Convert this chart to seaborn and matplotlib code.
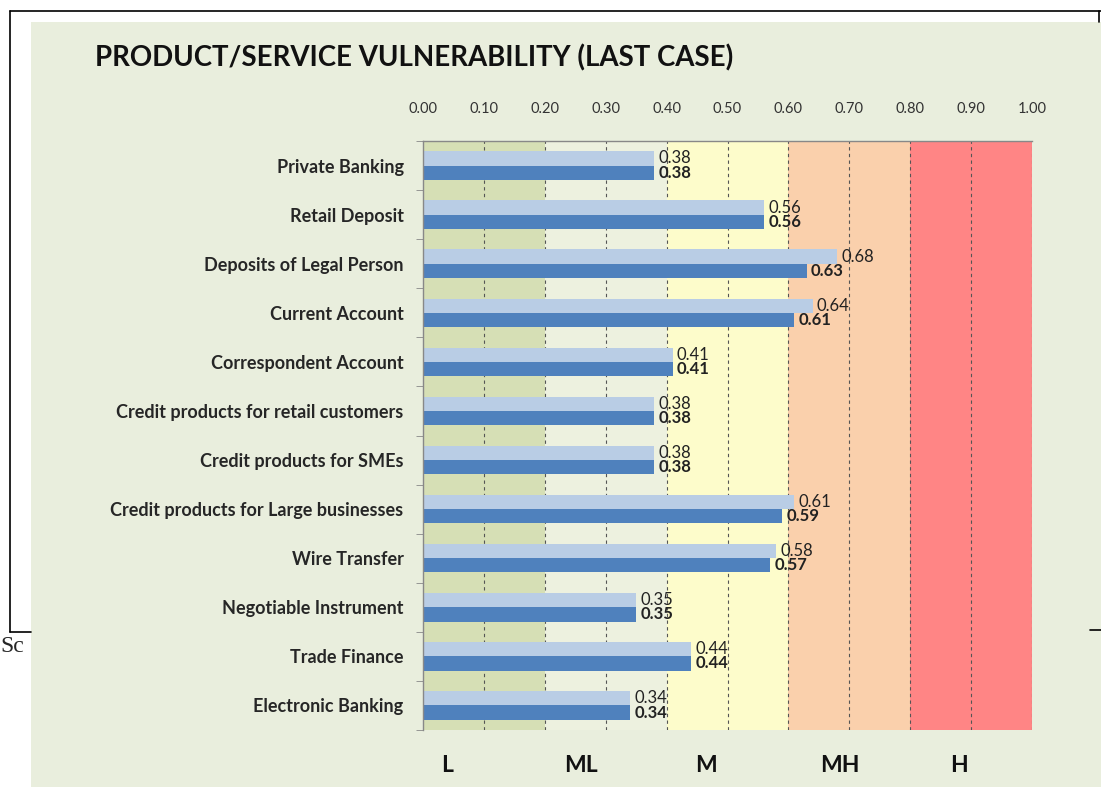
import numpy as np
import pandas as pd
import seaborn as sns
import matplotlib.pyplot as plt
from matplotlib.lines import Line2D
from matplotlib.patches import Rectangle
import matplotlib.transforms as mtransforms

products = [
    "Private Banking", "Retail Deposit", "Deposits of Legal Person",
    "Current Account", "Correspondent Account",
    "Credit products for retail customers", "Credit products for SMEs",
    "Credit products for Large businesses", "Wire Transfer",
    "Negotiable Instrument", "Trade Finance", "Electronic Banking",
]
first_case = [0.38, 0.56, 0.68, 0.64, 0.41, 0.38, 0.38, 0.61, 0.58, 0.35, 0.44, 0.34]
last_case = [0.38, 0.56, 0.63, 0.61, 0.41, 0.38, 0.38, 0.59, 0.57, 0.35, 0.44, 0.34]

# risk zones along the x axis
zone_edges = [0.0, 0.2, 0.4, 0.6, 0.8, 1.0]
zone_colors = ["#d6dfb5", "#edf1df", "#fdfccb", "#fad0ac", "#ff8585"]
zone_names = ["L", "ML", "M", "MH", "H"]
zone_label_x = [0.04, 0.26, 0.465, 0.685, 0.88]
xtick_values = np.round(np.arange(0, 1.01, 0.1), 2)

df = pd.DataFrame({
    "product": products * 2,
    "value": first_case + last_case,
    "series": ["first"] * len(products) + ["last"] * len(products),
})

sns.set_style("white")
plt.rcParams["font.family"] = ["Lato", "DejaVu Sans"]

fig = plt.figure(figsize=(11.01, 7.87), dpi=100)
fig.patch.set_facecolor("white")

# page frame and chart panel
W, H = 1101, 787
def fx(px): return px / W
def fy(py): return 1 - py / H

fig.add_artist(Rectangle((fx(31), 0), fx(1101) - fx(31), fy(22), transform=fig.transFigure,
                         facecolor="#e9eedd", edgecolor="none", zorder=0))
for xs, ys in [([10, 1101], [11, 11]), ([10, 10], [11, 632]), ([10, 31], [632, 632]),
               ([1099, 1099], [11, 22]), ([1090, 1101], [630, 630])]:
    fig.add_artist(Line2D([fx(x) for x in xs], [fy(y) for y in ys], color="black", lw=1.2,
                          transform=fig.transFigure, zorder=1))
fig.text(0.0, fy(646), "Sc", family="Liberation Serif", fontsize=17, va="center", ha="left")

ax = fig.add_axes([fx(423), fy(730), fx(1032) - fx(423), fy(141) - fy(730)])
ax.set_facecolor("none")

for i in range(len(zone_colors)):
    ax.axvspan(zone_edges[i], zone_edges[i + 1], color=zone_colors[i], zorder=0, lw=0)
for xv in xtick_values[1:]:
    ax.axvline(xv, color="#555555", lw=0.8, ls=(0, (3, 3)), zorder=1)

sns.barplot(data=df, y="product", x="value", hue="series", orient="h",
            palette=["#b9cde5", "#4f81bd"], width=0.58, ax=ax, legend=False,
            order=products, saturation=1, linewidth=0, zorder=2)

for cont, weight in zip(ax.containers, ["normal", "bold"]):
    ax.bar_label(cont, fmt="%.2f", padding=3, fontsize=12, fontweight=weight, color="#222222")

ax.set_xlim(0, 1.0)
ax.set_ylim(len(products) - 0.5, -0.5)
ax.xaxis.tick_top()
ax.set_xticks(xtick_values)
ax.set_xticklabels([f"{v:.2f}" for v in xtick_values], fontsize=10.5, color="#333333")
ax.tick_params(axis="x", length=0, pad=18)
ax.set_yticks(range(len(products)))
ax.set_yticklabels(products, fontsize=13, fontweight="bold", color="#262626")
ax.set_yticks(np.arange(-0.5, len(products), 1), minor=True)
ax.tick_params(axis="y", which="major", length=0, pad=14)
ax.tick_params(axis="y", which="minor", length=5, left=True, color="#888888")
ax.set_xlabel("")
ax.set_ylabel("")
for side in ["right", "bottom"]:
    ax.spines[side].set_visible(False)
for side in ["left", "top"]:
    ax.spines[side].set_color("#888888")
    ax.spines[side].set_linewidth(1)

trans = mtransforms.blended_transform_factory(ax.transData, ax.transAxes)
for name, xv in zip(zone_names, zone_label_x):
    ax.text(xv, -0.06, name, transform=trans, ha="center", va="center",
            fontsize=16.5, fontweight="bold", color="#111111")

fig.text(fx(95), fy(58), "PRODUCT/SERVICE VULNERABILITY (LAST CASE)", fontsize=19.9,
         fontweight="bold", color="#111111", va="center", ha="left")

fig.savefig("out.png", dpi=100)
